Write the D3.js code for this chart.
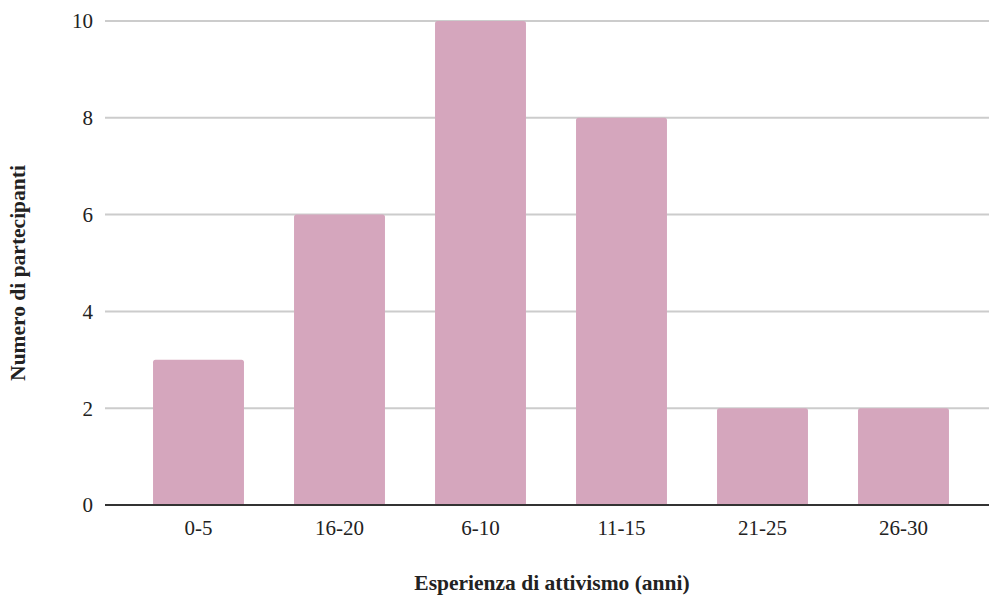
<!DOCTYPE html>
<html lang="it">
<head>
    <meta charset="UTF-8">
    <title>Esperienza di attivismo</title>
    <script src="https://d3js.org/d3.v7.min.js"></script>
    <style>
        body { margin: 0; background: #fff; }
        svg text { font-family: 'Liberation Serif', 'Times New Roman', Times; fill: #222; }
    </style>
</head>
<body>
    <div id="chart"></div>

    <script>
        // Data
        var categories = ["0-5", "16-20", "6-10", "11-15", "21-25", "26-30"];
        var values = [3, 6, 10, 8, 2, 2];
        var yTicks = [0, 2, 4, 6, 8, 10];

        var width = 989, height = 595;

        var svg = d3.select("#chart")
            .append("svg")
            .attr("width", width)
            .attr("height", height);

        var x = d3.scaleBand()
            .domain(categories)
            .range([128, 974])
            .paddingInner(0.355)
            .paddingOuter(0.1775);

        var y = d3.scaleLinear()
            .domain([0, 10])
            .range([505, 21]);

        // gridlines
        svg.append("g")
            .selectAll("line")
            .data(yTicks.filter(function(d) { return d > 0; }))
            .enter()
            .append("line")
            .attr("x1", 105)
            .attr("x2", 989)
            .attr("y1", function(d) { return y(d); })
            .attr("y2", function(d) { return y(d); })
            .attr("stroke", "#cccccc")
            .attr("stroke-width", 2);

        // y tick labels
        svg.append("g")
            .selectAll("text")
            .data(yTicks)
            .enter()
            .append("text")
            .attr("x", 93)
            .attr("y", function(d) { return y(d); })
            .attr("dy", "0.35em")
            .attr("text-anchor", "end")
            .style("font-size", "21px")
            .text(function(d) { return d; });

        // bars with slightly rounded top corners
        var r = 2.5;
        svg.append("g")
            .selectAll("path")
            .data(values)
            .enter()
            .append("path")
            .attr("fill", "#d5a6bd")
            .attr("d", function(d, i) {
                var x0 = x(categories[i]), w = x.bandwidth();
                var y0 = y(d), yb = y(0);
                return "M" + x0 + "," + yb +
                    "V" + (y0 + r) +
                    "Q" + x0 + "," + y0 + " " + (x0 + r) + "," + y0 +
                    "H" + (x0 + w - r) +
                    "Q" + (x0 + w) + "," + y0 + " " + (x0 + w) + "," + (y0 + r) +
                    "V" + yb + "Z";
            });

        // baseline
        svg.append("line")
            .attr("x1", 105)
            .attr("x2", 989)
            .attr("y1", y(0))
            .attr("y2", y(0))
            .attr("stroke", "#333333")
            .attr("stroke-width", 2);

        // x labels
        svg.append("g")
            .selectAll("text")
            .data(categories)
            .enter()
            .append("text")
            .attr("x", function(d) { return x(d) + x.bandwidth() / 2; })
            .attr("y", 535)
            .attr("text-anchor", "middle")
            .style("font-size", "21px")
            .text(function(d) { return d; });

        // axis titles
        svg.append("text")
            .attr("x", 552)
            .attr("y", 590)
            .attr("text-anchor", "middle")
            .style("font-size", "21.5px")
            .style("font-weight", "bold")
            .text("Esperienza di attivismo (anni)");

        svg.append("text")
            .attr("transform", "translate(25,273) rotate(-90)")
            .attr("text-anchor", "middle")
            .style("font-size", "21.5px")
            .style("font-weight", "bold")
            .text("Numero di partecipanti");
    </script>
</body>
</html>
